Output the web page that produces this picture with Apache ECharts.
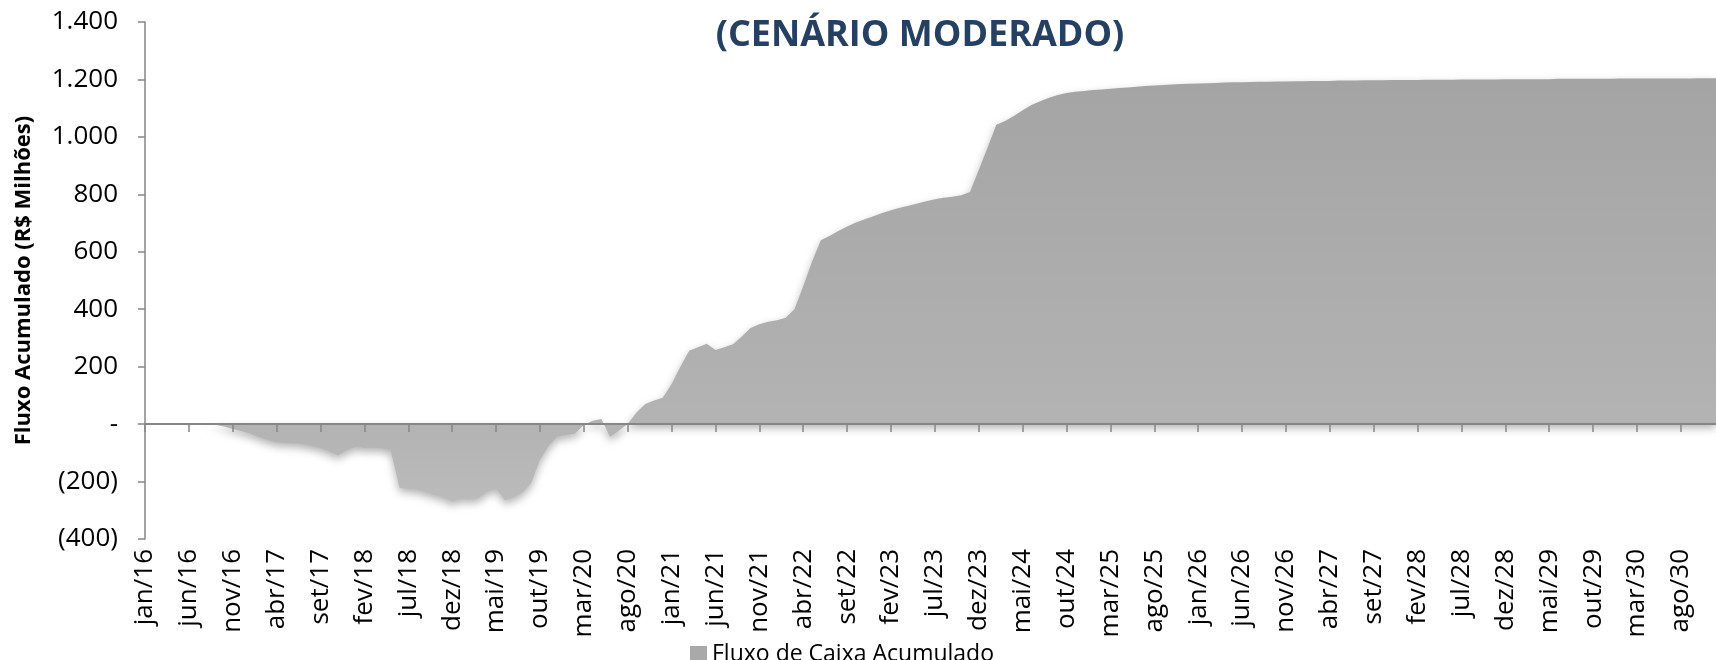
<!DOCTYPE html>
<html>
<head>
<meta charset="utf-8">
<script src="https://cdn.jsdelivr.net/npm/echarts@6/dist/echarts.min.js"></script>
<style>
html,body{margin:0;padding:0;background:#fff;}
#chart{width:1716px;height:660px;}
</style>
</head>
<body>
<div id="chart"></div>
<script>
// Month abbreviations and years for category labels (jan/16 .. dez/30)
const monthNames = ['jan','fev','mar','abr','mai','jun','jul','ago','set','out','nov','dez'];
const years = ['16','17','18','19','20','21','22','23','24','25','26','27','28','29','30'];
const categories = [];
years.forEach(y => monthNames.forEach(m => categories.push(m + '/' + y)));

// Fluxo de Caixa Acumulado (R$ Milhões), monthly
const fluxoAcumulado = [
  0, 0, 0, 0, 0, 0, 0, 0,
  -2, -8, -17, -25, -33, -45, -55, -63,
  -66, -67, -70, -76, -83, -95, -108, -90,
  -78, -83, -82, -84, -90, -222, -225, -228,
  -237, -246, -255, -270, -258, -262, -258, -235,
  -222, -265, -255, -238, -205, -124, -75, -42,
  -38, -33, -3, 12, 18, -45, -22, 0,
  40, 70, 82, 92, 140, 200, 255, 268,
  280, 258, 268, 278, 305, 335, 348, 356,
  362, 370, 400, 480, 565, 640, 655, 672,
  688, 702, 713, 724, 735, 745, 753, 760,
  768, 776, 783, 788, 792, 797, 808, 885,
  962, 1042, 1055, 1073, 1093, 1111, 1124, 1136,
  1146, 1153, 1157, 1160, 1163, 1165, 1168, 1170,
  1172, 1175, 1177, 1179, 1181, 1182, 1184, 1185,
  1186, 1187, 1188, 1189, 1190, 1190, 1191, 1192,
  1192, 1193, 1193, 1194, 1194, 1195, 1195, 1195,
  1196, 1196, 1196, 1197, 1197, 1197, 1198, 1198,
  1198, 1198, 1199, 1199, 1199, 1199, 1200, 1200,
  1200, 1200, 1200, 1201, 1201, 1201, 1201, 1201,
  1201, 1202, 1202, 1202, 1202, 1202, 1202, 1202,
  1203, 1203, 1203, 1203, 1203, 1203, 1203, 1203,
  1203, 1204, 1204, 1204
];

const yTicks = { min: -400, max: 1400, interval: 200 };
const titleText = '(CENÁRIO MODERADO)';
const yAxisName = 'Fluxo Acumulado (R$ Milhões)';
const seriesName = 'Fluxo de Caixa Acumulado';

function fmtY(v) {
  if (v === 0) return '-';
  const a = Math.abs(v);
  const s = a >= 1000 ? Math.floor(a / 1000) + '.' + String(a % 1000).padStart(3, '0') : String(a);
  return v < 0 ? '(' + s + ')' : s;
}

const chart = echarts.init(document.getElementById('chart'), null, { renderer: 'canvas' });
const axisGray = '#868686';
chart.setOption({
  animation: false,
  backgroundColor: '#ffffff',
  title: {
    text: titleText,
    left: 915,
    top: 13,
    textAlign: 'center',
    textStyle: { fontFamily: 'Open Sans', fontWeight: 'bold', fontSize: 36, color: '#254061' }
  },
  legend: {
    data: [seriesName],
    left: 685,
    top: 638,
    icon: 'rect',
    itemWidth: 17,
    itemHeight: 17,
    textStyle: { fontFamily: 'Open Sans', fontSize: 23, color: '#000' }
  },
  grid: { left: 145, top: 22, bottom: 121, right: -12, containLabel: false },
  xAxis: [
    {
      type: 'category',
      data: categories,
      boundaryGap: false,
      position: 'bottom',
      axisLine: { show: false, onZero: false },
      axisTick: { show: false },
      axisLabel: {
        rotate: 90,
        interval: 4,
        margin: 10,
        fontFamily: 'Open Sans',
        fontSize: 26,
        color: '#000'
      },
      splitLine: { show: false }
    },
    {
      type: 'category',
      data: categories,
      boundaryGap: false,
      position: 'bottom',
      z: 10,
      axisLine: { show: true, onZero: true, lineStyle: { color: axisGray, width: 2 } },
      axisTick: { show: true, interval: 4, length: 8, lineStyle: { color: axisGray, width: 1.5 } },
      axisLabel: { show: false },
      splitLine: { show: false }
    }
  ],
  yAxis: {
    type: 'value',
    min: yTicks.min,
    max: yTicks.max,
    interval: yTicks.interval,
    name: yAxisName,
    nameLocation: 'middle',
    nameRotate: 90,
    nameGap: 110,
    nameTextStyle: { fontFamily: 'Open Sans', fontWeight: 'bold', fontSize: 22, color: '#000' },
    axisLine: { show: true, lineStyle: { color: axisGray, width: 1.5 } },
    axisTick: { show: true, length: 7, lineStyle: { color: axisGray, width: 1.5 } },
    axisLabel: {
      margin: 27,
      fontFamily: 'Open Sans',
      fontSize: 26,
      color: '#000',
      formatter: fmtY
    },
    splitLine: { show: false }
  },
  series: [{
    name: seriesName,
    type: 'line',
    xAxisIndex: 0,
    data: fluxoAcumulado,
    showSymbol: false,
    symbol: 'none',
    lineStyle: { width: 0 },
    itemStyle: { color: '#a9a9a9' },
    areaStyle: {
      color: new echarts.graphic.LinearGradient(0, 0, 0, 1, [
        { offset: 0, color: '#a4a4a4' },
        { offset: 0.82, color: '#b3b3b3' },
        { offset: 1, color: '#bbbbbb' }
      ]),
      opacity: 1,
      shadowColor: 'rgba(0,0,0,0.3)',
      shadowBlur: 8,
      shadowOffsetY: 4
    }
  }]
});
</script>
</body>
</html>
